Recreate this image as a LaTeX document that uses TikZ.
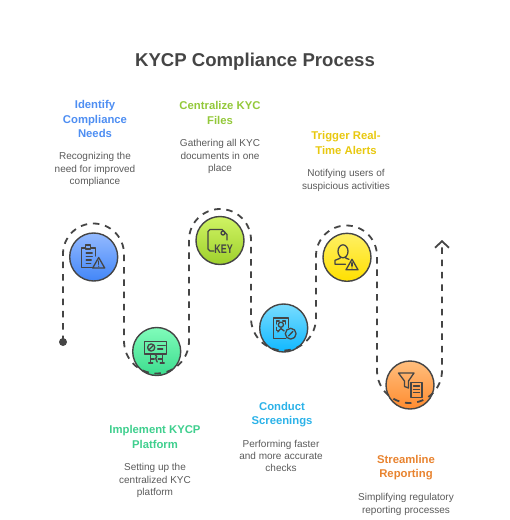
\documentclass[tikz,border=0pt]{standalone}
\usepackage{fontspec}
\setmainfont{Liberation Sans}
\usetikzlibrary{arrows.meta}
\definecolor{ink}{HTML}{454545}
\definecolor{bodyc}{HTML}{5A5A5A}
\definecolor{hblue}{HTML}{4E8EF2}
\definecolor{hgreen}{HTML}{3FCF8E}
\definecolor{hlime}{HTML}{93C83A}
\definecolor{hcyan}{HTML}{2BB2E8}
\definecolor{hyellow}{HTML}{E8C80F}
\definecolor{horange}{HTML}{E8832F}
\tikzset{
  x=1pt,y=-1pt,
  dot/.style={circle,draw=ink,line width=1.4pt,minimum size=48pt,inner sep=0pt},
  route/.style={draw=ink,line width=1.8pt,dash pattern=on 6.5pt off 5.8pt},
  ico/.style={draw=ink,line width=1.3pt,line join=round,line cap=round},
  ticon/.style={font=\bfseries\fontsize{12.5}{12.5}\selectfont,text=ink,inner sep=0pt},
  titlet/.style={font=\bfseries\fontsize{18.6}{23}\selectfont,text=ink,inner sep=0pt},
  headt/.style={font=\bfseries\fontsize{11.3}{14.3}\selectfont,align=center,inner sep=0pt},
  bodyt/.style={font=\fontsize{10}{12.2}\selectfont,align=center,text=bodyc,inner sep=0pt},
}
\begin{document}
\begin{tikzpicture}
\useasboundingbox (0,0) rectangle (510,520);
\node[titlet] (title) at (255,62) {KYCP Compliance Process};

% circles
\node[dot,top color={rgb,255:red,148;green,186;blue,255},bottom color={rgb,255:red,66;green,134;blue,248}] (c1) at (93.7,257) {};
\node[dot,top color={rgb,255:red,128;green,252;blue,186},bottom color={rgb,255:red,60;green,220;blue,142}] (c2) at (156.7,351.5) {};
\node[dot,top color={rgb,255:red,208;green,244;blue,100},bottom color={rgb,255:red,158;green,208;blue,44}] (c3) at (220,240.5) {};
\node[dot,top color={rgb,255:red,120;green,220;blue,255},bottom color={rgb,255:red,16;green,184;blue,255}] (c4) at (283.7,328) {};
\node[dot,top color={rgb,255:red,255;green,240;blue,100},bottom color={rgb,255:red,255;green,224;blue,0}] (c5) at (347,257.3) {};
\node[dot,top color={rgb,255:red,255;green,190;blue,125},bottom color={rgb,255:red,255;green,140;blue,48}] (c6) at (410,385) {};

% route
\coordinate (start) at (63,342);
\coordinate (finish) at (442,240);
\node[circle,fill=ink,inner sep=0pt,minimum size=8pt] (startdot) at (start) {};
\draw[route,-{Straight Barb[length=6.5pt,width=14pt,line width=1.8pt]}] (start)
  -- (63,254) .. controls (63,237.15) and (76.65,223.5) .. (93.5,223.5)
  .. controls (110.35,223.5) and (124,237.15) .. (124,254)
  -- (124,341) .. controls (124,358.95) and (138.55,373.5) .. (156.5,373.5)
  .. controls (174.45,373.5) and (189,358.95) .. (189,341)
  -- (189,240) .. controls (189,222.9) and (202.9,209) .. (220,209)
  .. controls (237.1,209) and (251,222.9) .. (251,240)
  -- (251,318) .. controls (251,335.95) and (265.55,350.5) .. (283.5,350.5)
  .. controls (301.45,350.5) and (316,335.95) .. (316,318)
  -- (316,256) .. controls (316,239.15) and (329.65,225.5) .. (346.5,225.5)
  .. controls (363.35,225.5) and (377,239.15) .. (377,256)
  -- (377,370.5) .. controls (377,388.45) and (391.55,403) .. (409.5,403)
  .. controls (427.45,403) and (442,388.45) .. (442,370.5)
  -- (finish);

% icon 1: clipboard and warning
\begin{scope}[shift={(c1)},ico]
  \draw (-1,10.5) -- (-12,10.5) -- (-12,-9) -- (-8,-9);
  \draw (-3,-9) -- (1.5,-9) -- (1.5,-1);
  \draw (-8,-8) -- (-8,-12) -- (-3,-12) -- (-3,-8) -- cycle;
  \draw (-7.5,-4) -- (-1.5,-4) (-7.5,-0.5) -- (-1.5,-0.5) (-7.5,3) -- (-2.5,3) (-7.5,6.5) -- (-3,6.5);
  \draw (5,0.5) -- (11,11) -- (-1,11) -- cycle;
  \draw (5,4) -- (5,7.3);
  \fill[ink] (5,9.2) circle (0.7);
\end{scope}

% icon 2: presentation board
\begin{scope}[shift={(c2)},ico]
  \draw (-12,-10) rectangle (10,2.5);
  \draw (-5.5,-4) circle (3.6);
  \draw (-7.5,-2) -- (-3.5,-6);
  \draw (1,-6) -- (8.5,-6) (1,-2.5) -- (6,-2.5);
  \draw (-6,2.5) -- (-6,11.5) (5.5,2.5) -- (5.5,11.5);
  \draw (-8,11.5) -- (-4,11.5) (3.5,11.5) -- (7.5,11.5);
  \draw (-6,7.5) -- (-2.5,7.5) (1.5,7.5) -- (5.5,7.5);
  \draw (-2,2.5) -- (0,5) -- (-1,7) -- (0.5,10.5);
\end{scope}

% icon 3: key file
\begin{scope}[shift={(c3)},ico]
  \draw (-6,10.5) -- (-10,10.5) -- (-12,8.5) -- (-12,-9) -- (-10,-11) -- (2,-11) -- (7,-6) -- (7,-0.5);
  \draw (3,-7.5) circle (2);
  \node[ticon] (keyt) at (3.6,8.3) {\scalebox{0.72}[1]{KEY}};
\end{scope}

% icon 4: face scan
\begin{scope}[shift={(c4)},ico]
  \draw (2,10.5) -- (-10.5,10.5) -- (-10.5,-10) -- (4.5,-10) -- (4.5,-0.5);
  \draw (-7.5,-4) -- (-7.5,-7) -- (-4.5,-7) (-1,-7) -- (2,-7) -- (2,-4);
  \draw (-7.5,-0.5) -- (-7.5,2.5) -- (-5.5,2.5);
  \draw (-2.8,-3.3) circle (2.6);
  \draw (-6,4) -- (-2.8,0.5) -- (0.5,3);
  \draw (7,5.7) circle (5.4);
  \draw (4.8,8) -- (9.2,3.4);
\end{scope}

% icon 5: user alert
\begin{scope}[shift={(c5)},ico]
  \draw (-4,-6) ellipse (5 and 6.5);
  \draw (-6.5,-0.5) -- (-7,1) -- (-12,3) -- (-12,7) -- (-1.5,7);
  \draw (-1.5,-0.5) -- (-1,1) -- (2,2);
  \draw (5,2) -- (11,12.5) -- (-1,12.5) -- cycle;
  \draw (5,5.5) -- (5,8.8);
  \fill[ink] (5,10.7) circle (0.7);
\end{scope}

% icon 6: filter and report
\begin{scope}[shift={(c6)},ico]
  \draw (-11.5,-12) -- (4,-12) -- (-1.5,-4) -- (-1.5,3) -- (-5.5,1.5) -- (-5.5,-4) -- cycle;
  \draw (1,-2.5) -- (12,-2.5) -- (12,12.5) -- (1,12.5) -- cycle;
  \draw (3.5,1) -- (9.5,1) (3.5,4.3) -- (9.5,4.3) (3.5,7.6) -- (9.5,7.6);
\end{scope}

% labels
\node[headt,text=hblue] (h1) at (95,119) {Identify\\Compliance\\Needs};
\node[bodyt] (b1) at (95,169.5) {Recognizing the\\need for improved\\compliance};
\node[headt,text=hlime] (h3) at (220,113) {Centralize KYC\\Files};
\node[bodyt] (b3) at (220,156.5) {Gathering all KYC\\documents in one\\place};
\node[headt,text=hyellow] (h5) at (346,143) {Trigger Real-\\Time Alerts};
\node[bodyt] (b5) at (346,180.5) {Notifying users of\\suspicious activities};
\node[headt,text=hgreen] (h2) at (155,437) {Implement KYCP\\Platform};
\node[bodyt] (b2) at (155,480.5) {Setting up the\\centralized KYC\\platform};
\node[headt,text=hcyan] (h4) at (282,414.5) {Conduct\\Screenings};
\node[bodyt] (b4) at (281,456) {Performing faster\\and more accurate\\checks};
\node[headt,text=horange] (h6) at (406,467.5) {Streamline\\Reporting};
\node[bodyt] (b6) at (406,504.5) {Simplifying regulatory\\reporting processes};
\end{tikzpicture}
\end{document}
